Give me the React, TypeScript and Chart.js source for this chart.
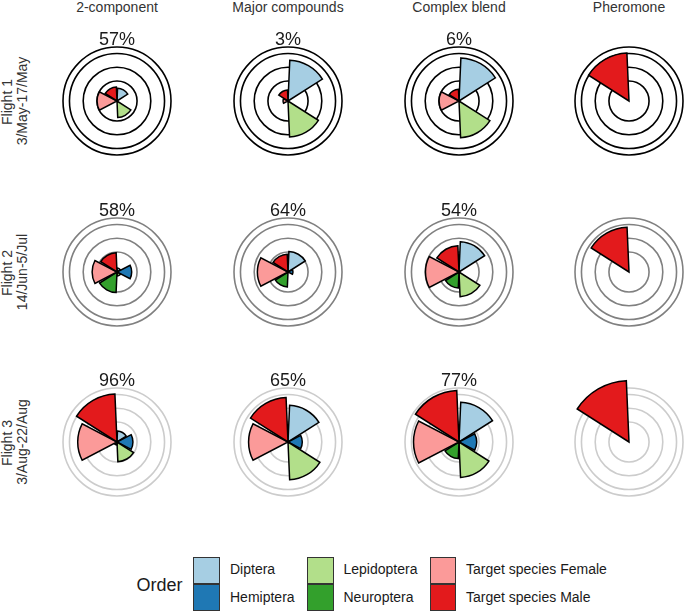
import React, { useEffect, useRef } from "react";
import { Chart, registerables } from "chart.js";

Chart.register(...registerables);

// ---- data (radial values are log10 abundance; null = none caught) ----
const ORDERS = ["Diptera", "Hemiptera", "Lepidoptera", "Neuroptera", "Target species Female", "Target species Male"];
const ORDER_COLORS = ["#A6CEE3", "#1F78B4", "#B2DF8A", "#33A02C", "#FB9A99", "#E31A1C"];
const TREATMENTS = ["2-component", "Major compounds", "Complex blend", "Pheromone"];
const FLIGHTS = ["Flight 1", "Flight 2", "Flight 3"];
const FLIGHT_DATES = ["3/May-17/May", "14/Jun-5/Jul", "3/Aug-22/Aug"];

const RING_TICKS = [1, 2, 3, 3.47];
const R_MIN = -0.46;
const R_MAX = 3.47;

type V = number | null;

const FLIGHT1: V[][] = [
  [0.47, null, 0.74, null, 0.99, 0.56],
  [2.51, null, 2.16, null, -0.1, 0.34],
  [2.68, null, 2.21, null, 0.99, 0.39],
  [null, null, null, null, null, 3.03],
];
const FLIGHT2: V[][] = [
  [-0.17, 0.61, -0.17, 1.04, 1.35, 0.94],
  [1.03, -0.1, null, 0.63, 1.77, 0.83],
  [1.75, null, 1.34, 0.7, 1.98, 1.45],
  [null, null, null, null, null, 2.8],
];
const FLIGHT3: V[][] = [
  [0.34, 0.7, 0.97, -0.24, 2.4, 3.03],
  [2.21, 0.58, 2.29, null, 2.41, 2.78],
  [2.43, 0.83, 2.12, 0.75, 2.85, 3.3],
  [null, null, null, null, null, 4.01],
];
const PERCENT_F1 = ["57%", "3%", "6%", ""];
const PERCENT_F2 = ["58%", "64%", "54%", ""];
const PERCENT_F3 = ["96%", "65%", "77%", ""];

const FLIGHT_VALUES = [FLIGHT1, FLIGHT2, FLIGHT3];
const FLIGHT_PERCENTS = [PERCENT_F1, PERCENT_F2, PERCENT_F3];

// ---- layout / style ----
const RING_COLORS = ["#000000", "#808080", "#cccccc"];
const COL_X = [117, 288, 459, 629];
const ROW_Y = [101, 272, 442];
const CANVAS = 150;
const OUTER_R = 54;
const WEDGE_DEG = 55;
const GAP_DEG = 5;
const FONT = '"Liberation Sans", Arial, Helvetica, sans-serif';

function RosePanel({ values, ringColor, cx, cy }: { values: V[]; ringColor: string; cx: number; cy: number }) {
  const ref = useRef<HTMLCanvasElement>(null);
  useEffect(() => {
    const data: number[] = [];
    const colors: string[] = [];
    const widths: number[] = [];
    const angles: number[] = [];
    values.forEach((v, i) => {
      data.push(v == null ? R_MIN : v);
      colors.push(ORDER_COLORS[i]);
      widths.push(v == null ? 0 : 1.5);
      angles.push(WEDGE_DEG);
      data.push(R_MIN);
      colors.push("rgba(0,0,0,0)");
      widths.push(0);
      angles.push(GAP_DEG);
    });
    const labels = data.map((_, i) => String(i));
    const chart = new Chart(ref.current as HTMLCanvasElement, {
      type: "polarArea",
      data: {
        labels,
        datasets: [
          {
            data,
            backgroundColor: colors,
            borderColor: "#000000",
            borderWidth: widths,
            borderJoinStyle: "miter",
            angle: angles,
            clip: false,
          } as any,
        ],
      },
      options: {
        responsive: false,
        animation: false,
        events: [],
        layout: { padding: CANVAS / 2 - OUTER_R },
        plugins: { legend: { display: false }, tooltip: { enabled: false } },
        scales: {
          r: {
            min: R_MIN,
            max: R_MAX,
            startAngle: GAP_DEG / 2,
            ticks: { display: false },
            grid: { color: ringColor, lineWidth: 1.6, circular: true },
            angleLines: { display: false },
            pointLabels: { display: false },
            afterBuildTicks: (s: any) => {
              s.ticks = RING_TICKS.map((v) => ({ value: v }));
            },
          } as any,
        },
      },
    });
    return () => chart.destroy();
  }, []);
  return (
    <canvas
      ref={ref}
      width={CANVAS}
      height={CANVAS}
      style={{ position: "absolute", left: cx - CANVAS / 2, top: cy - CANVAS / 2, width: CANVAS, height: CANVAS }}
    />
  );
}

function Label({ text, x, baseline, size, color, align = "center" }: { text: string; x: number; baseline: number; size: number; color: string; align?: "center" | "left" }) {
  const w = 300;
  return (
    <div
      style={{
        position: "absolute",
        left: align === "center" ? x - w / 2 : x,
        top: baseline - 0.8465 * size,
        width: w,
        textAlign: align,
        fontFamily: FONT,
        fontSize: size,
        lineHeight: `${size}px`,
        color,
        whiteSpace: "nowrap",
      }}
    >
      {text}
    </div>
  );
}

function RotLabel({ text, baselineX, cy, size, color }: { text: string; baselineX: number; cy: number; size: number; color: string }) {
  const w = 200;
  const cx = baselineX - 0.3465 * size;
  return (
    <div
      style={{
        position: "absolute",
        left: cx - w / 2,
        top: cy - size / 2,
        width: w,
        height: size,
        textAlign: "center",
        fontFamily: FONT,
        fontSize: size,
        lineHeight: `${size}px`,
        color,
        whiteSpace: "nowrap",
        transform: "rotate(-90deg)",
        transformOrigin: "50% 50%",
      }}
    >
      {text}
    </div>
  );
}

const LEGEND_BOX_X = [193, 307, 429.5];
const LEGEND_BOX_Y = [557, 584];
const LEGEND_TEXT_X = [230, 343.5, 466];
const LEGEND_TEXT_BASE = [573.5, 601.5];

export default function App() {
  return (
    <div style={{ position: "absolute", left: 0, top: 0, width: 685, height: 612, background: "#ffffff", overflow: "hidden" }}>
      {TREATMENTS.map((t, c) => (
        <Label key={t} text={t} x={COL_X[c]} baseline={11.5} size={14} color="#333333" />
      ))}
      {FLIGHTS.map((f, r) => (
        <React.Fragment key={f}>
          <RotLabel text={f} baselineX={12} cy={ROW_Y[r] + 1} size={14} color="#333333" />
          <RotLabel text={FLIGHT_DATES[r]} baselineX={27} cy={ROW_Y[r]} size={14} color="#333333" />
          {TREATMENTS.map((t, c) => (
            <React.Fragment key={t}>
              <RosePanel values={FLIGHT_VALUES[r][c]} ringColor={RING_COLORS[r]} cx={COL_X[c]} cy={ROW_Y[r]} />
              {FLIGHT_PERCENTS[r][c] ? (
                <Label text={FLIGHT_PERCENTS[r][c]} x={COL_X[c]} baseline={ROW_Y[r] - 56} size={18} color="#1a1a1a" />
              ) : null}
            </React.Fragment>
          ))}
        </React.Fragment>
      ))}
      <Label text="Order" x={136.5} baseline={591.5} size={18} color="#1a1a1a" align="left" />
      {ORDERS.map((o, i) => {
        const col = Math.floor(i / 2);
        const row = i % 2;
        return (
          <React.Fragment key={o}>
            <div
              style={{
                position: "absolute",
                left: LEGEND_BOX_X[col],
                top: LEGEND_BOX_Y[row],
                width: 26.5,
                height: 26.5,
                boxSizing: "border-box",
                border: "1.5px solid #333333",
                background: ORDER_COLORS[i],
              }}
            />
            <Label text={o} x={LEGEND_TEXT_X[col]} baseline={LEGEND_TEXT_BASE[row]} size={14} color="#1a1a1a" align="left" />
          </React.Fragment>
        );
      })}
    </div>
  );
}
